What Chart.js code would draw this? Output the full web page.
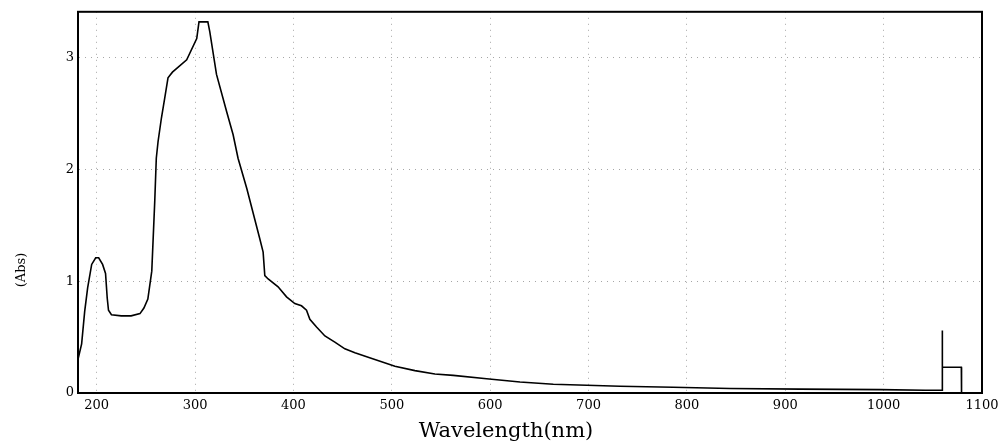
<!DOCTYPE html>
<html><head><meta charset="utf-8">
<script src="https://cdn.jsdelivr.net/npm/chart.js@4/dist/chart.umd.min.js"></script>
<style>html,body{margin:0;padding:0;background:#fff;}</style>
</head><body>
<canvas id="c" width="1007" height="446"></canvas>
<script>
// Wavelength (nm) and absorbance
const wavelengths = [180.7, 184.7, 187.8, 190.8, 194.9, 199, 202, 206, 209, 210.7, 212, 215, 225, 235, 244, 248, 252, 256, 259, 260.6, 262.4, 265.8, 269.2, 272.5, 277, 291.5, 301.7, 304, 313, 315, 321.8, 332, 338.7, 343.7, 352.6, 365.8, 369.2, 370.9, 374.3, 384.4, 393, 401.4, 408.2, 413.3, 416.7, 423.5, 432, 442.1, 452.3, 462.5, 476, 489.6, 503.2, 523.5, 543.8, 562.5, 596.4, 630.3, 664.2, 698.2, 732, 786, 844, 915, 996.5, 1042.3, 1059.5, 1059.6, 1059.8, 1079, 1079.2, 1100];
const absorbance  = [0.29, 0.44, 0.73, 0.94, 1.15, 1.21, 1.21, 1.15, 1.07, 0.85, 0.74, 0.70, 0.69, 0.69, 0.71, 0.76, 0.84, 1.09, 1.71, 2.10, 2.25, 2.46, 2.64, 2.82, 2.87, 2.98, 3.17, 3.32, 3.32, 3.23, 2.85, 2.52, 2.31, 2.10, 1.83, 1.38, 1.26, 1.05, 1.02, 0.95, 0.86, 0.80, 0.78, 0.74, 0.66, 0.59, 0.51, 0.455, 0.395, 0.36, 0.32, 0.28, 0.24, 0.20, 0.17, 0.158, 0.128, 0.098, 0.078, 0.069, 0.06, 0.052, 0.04, 0.035, 0.03, 0.025, 0.025, 0.56, 0.23, 0.23, 0.0, 0.0];
const xTicks = [200, 300, 400, 500, 600, 700, 800, 900, 1000, 1100];
const yTicks = [0, 1, 2, 3];
const xTitle = 'Wavelength(nm)';
const yTitle = '(Abs)';

const points = wavelengths.map((w, i) => ({x: w, y: absorbance[i]}));

const framePlugin = {
  id: 'frame',
  afterDatasetsDraw(chart) {
    const {ctx, chartArea: a} = chart;
    ctx.save();
    ctx.strokeStyle = '#000';
    ctx.lineWidth = 2;
    ctx.strokeRect(a.left, a.top, a.right - a.left, a.bottom - a.top);
    ctx.restore();
  }
};
const titlesPlugin = {
  id: 'titles',
  afterDraw(chart) {
    const {ctx} = chart;
    ctx.save();
    ctx.fillStyle = '#000';
    ctx.textAlign = 'center';
    ctx.textBaseline = 'middle';
    ctx.font = '21px "DejaVu Serif"';
    ctx.fillText(xTitle, 506, 432);
    ctx.translate(22, 270);
    ctx.rotate(-Math.PI / 2);
    ctx.font = '13px "DejaVu Serif"';
    ctx.fillText(yTitle, 0, 0);
    ctx.restore();
  }
};

new Chart(document.getElementById('c'), {
  type: 'line',
  data: {
    datasets: [{
      data: points,
      borderColor: '#000',
      borderWidth: 1.6,
      pointRadius: 0,
      tension: 0,
      fill: false
    }]
  },
  options: {
    responsive: false,
    animation: false,
    layout: {padding: {top: 11, right: 25, left: 0, bottom: 0}},
    plugins: {legend: {display: false}, tooltip: {enabled: false}},
    scales: {
      x: {
        type: 'linear',
        min: 181,
        max: 1100,
        afterBuildTicks: s => { s.ticks = xTicks.map(v => ({value: v})); },
        afterFit: s => { s.height = 53; },
        ticks: {color: '#000', font: {family: 'DejaVu Serif', size: 13}, padding: 5, maxRotation: 0, autoSkip: false, callback: v => String(v)},
        grid: {color: 'rgba(0,0,0,0.35)', lineWidth: 1, drawTicks: false},
        border: {display: true, color: '#000', width: 2, dash: [1, 5]}
      },
      y: {
        min: 0,
        max: 3.41,
        afterBuildTicks: s => { s.ticks = yTicks.map(v => ({value: v})); },
        afterFit: s => { s.width = 78; },
        ticks: {color: '#000', font: {family: 'DejaVu Serif', size: 13}, padding: 4, callback: v => String(v)},
        grid: {color: 'rgba(0,0,0,0.35)', lineWidth: 1, drawTicks: false},
        border: {display: true, color: '#000', width: 2, dash: [1, 5]}
      }
    }
  },
  plugins: [framePlugin, titlesPlugin]
});
</script>
</body></html>
